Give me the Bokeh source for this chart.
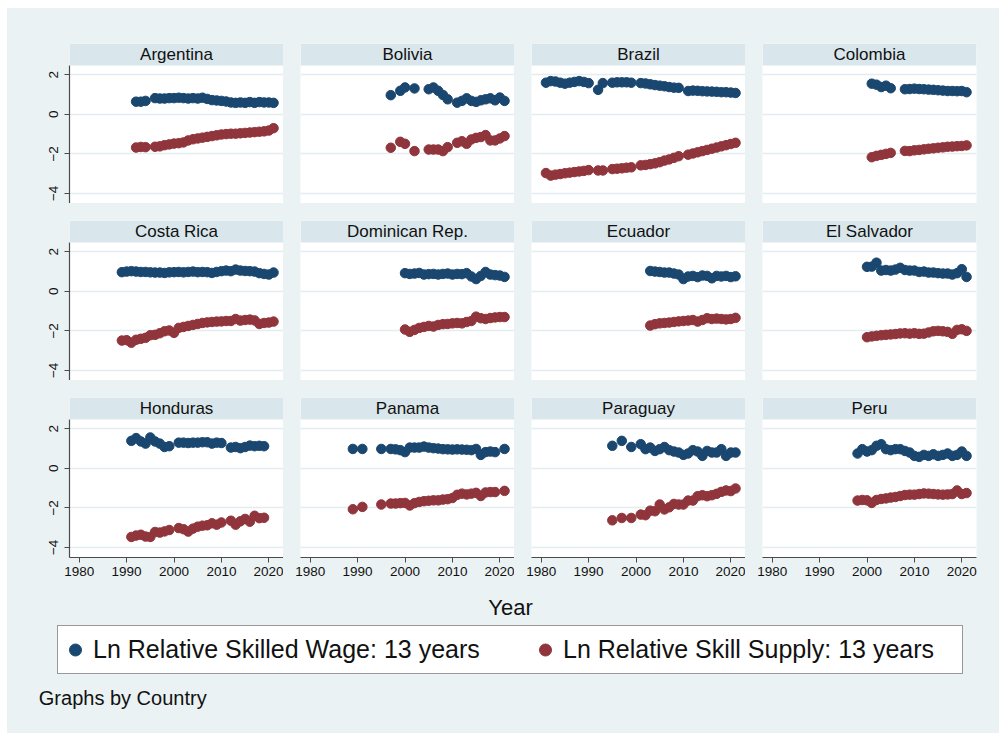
from bokeh.plotting import figure
from bokeh.models import (Range1d, FixedTicker, Grid, BoxAnnotation, Label,
                          Legend, LegendItem)
from bokeh.layouts import row, column
from bokeh.embed import file_html
from bokeh.resources import INLINE

# ---------------- data ----------------
COUNTRIES = ["Argentina", "Bolivia", "Brazil", "Colombia",
             "Costa Rica", "Dominican Rep.", "Ecuador", "El Salvador",
             "Honduras", "Panama", "Paraguay", "Peru"]

ARG_YEARS = [1992, 1993, 1994, 1996, 1997, 1998, 1999, 2000, 2001, 2002, 2003, 2004, 2005,
             2006, 2007, 2008, 2009, 2010, 2011, 2012, 2013, 2014, 2015, 2016, 2017, 2018,
             2019, 2020, 2021]
ARG_WAGE = [0.64, 0.64, 0.68, 0.82, 0.80, 0.80, 0.82, 0.82, 0.84, 0.82, 0.80, 0.82, 0.80,
            0.84, 0.78, 0.72, 0.70, 0.68, 0.65, 0.60, 0.58, 0.60, 0.58, 0.62, 0.58, 0.62,
            0.60, 0.60, 0.58]
ARG_SUPPLY = [-1.68, -1.65, -1.66, -1.64, -1.62, -1.56, -1.52, -1.48, -1.46, -1.42, -1.32,
              -1.26, -1.22, -1.18, -1.14, -1.10, -1.06, -1.02, -1.00, -0.98, -0.98, -0.96,
              -0.94, -0.92, -0.90, -0.88, -0.86, -0.82, -0.70]

BOL_YEARS = [1997, 1999, 2000, 2002, 2005, 2006, 2007, 2008, 2009, 2011, 2012, 2013, 2014,
             2015, 2016, 2017, 2018, 2019, 2020, 2021]
BOL_WAGE = [0.97, 1.19, 1.36, 1.31, 1.27, 1.36, 1.19, 0.98, 0.76, 0.59, 0.68, 0.81, 0.68,
            0.63, 0.71, 0.76, 0.81, 0.71, 0.85, 0.68]
BOL_SUPPLY = [-1.69, -1.39, -1.49, -1.86, -1.78, -1.78, -1.78, -1.86, -1.66, -1.44, -1.36,
              -1.49, -1.27, -1.19, -1.15, -1.05, -1.32, -1.32, -1.22, -1.10]

BRA_YEARS = [1981, 1982, 1983, 1984, 1985, 1986, 1987, 1988, 1989, 1990, 1992, 1993, 1995,
             1996, 1997, 1998, 1999, 2001, 2002, 2003, 2004, 2005, 2006, 2007, 2008, 2009,
             2011, 2012, 2013, 2014, 2015, 2016, 2017, 2018, 2019, 2020, 2021]
BRA_WAGE = [1.60, 1.68, 1.66, 1.60, 1.55, 1.60, 1.64, 1.68, 1.64, 1.58, 1.24, 1.58, 1.60,
            1.62, 1.62, 1.62, 1.60, 1.58, 1.56, 1.52, 1.48, 1.45, 1.42, 1.38, 1.35, 1.34,
            1.18, 1.20, 1.19, 1.17, 1.16, 1.15, 1.14, 1.12, 1.12, 1.10, 1.08]
BRA_SUPPLY = [-2.97, -3.10, -3.05, -3.02, -2.98, -2.95, -2.92, -2.89, -2.86, -2.82, -2.84,
              -2.84, -2.77, -2.75, -2.73, -2.70, -2.68, -2.58, -2.56, -2.52, -2.48, -2.42,
              -2.34, -2.28, -2.20, -2.12, -2.04, -1.98, -1.92, -1.86, -1.80, -1.74, -1.68,
              -1.62, -1.56, -1.50, -1.44]

COL_YEARS = [2001, 2002, 2003, 2004, 2005, 2008, 2009, 2010, 2011, 2012, 2013, 2014, 2015,
             2016, 2017, 2018, 2019, 2020, 2021]
COL_WAGE = [1.55, 1.50, 1.38, 1.45, 1.32, 1.27, 1.28, 1.30, 1.28, 1.27, 1.25, 1.24, 1.22,
            1.20, 1.18, 1.18, 1.17, 1.18, 1.12]
COL_SUPPLY = [-2.17, -2.10, -2.05, -2.00, -1.95, -1.85, -1.86, -1.82, -1.80, -1.77, -1.74,
              -1.72, -1.69, -1.67, -1.64, -1.63, -1.61, -1.60, -1.57]

CRI_YEARS = list(range(1989, 2022))
CRI_WAGE = [0.97, 1.00, 1.02, 1.00, 0.98, 0.98, 0.96, 0.95, 0.95, 0.93, 0.96, 0.97, 0.98,
            0.96, 0.98, 1.00, 0.97, 0.98, 0.97, 0.93, 0.98, 1.02, 1.05, 1.02, 1.10, 1.05,
            1.03, 1.02, 1.00, 0.92, 0.88, 0.85, 0.95]
CRI_SUPPLY = [-2.49, -2.47, -2.60, -2.45, -2.40, -2.35, -2.22, -2.20, -2.12, -2.02, -1.98,
              -2.10, -1.85, -1.80, -1.75, -1.70, -1.65, -1.60, -1.57, -1.55, -1.53, -1.52,
              -1.50, -1.50, -1.40, -1.48, -1.45, -1.43, -1.47, -1.65, -1.60, -1.58, -1.53]

DOM_YEARS = list(range(2000, 2022))
DOM_WAGE = [0.92, 0.88, 0.90, 0.93, 0.85, 0.87, 0.88, 0.85, 0.88, 0.90, 0.85, 0.88, 0.87,
            0.92, 0.75, 0.62, 0.78, 0.98, 0.85, 0.82, 0.80, 0.73]
DOM_SUPPLY = [-1.93, -2.05, -1.95, -1.85, -1.80, -1.75, -1.78, -1.70, -1.66, -1.65, -1.62,
              -1.60, -1.62, -1.55, -1.50, -1.28, -1.36, -1.40, -1.35, -1.32, -1.30, -1.30]

ECU_YEARS = list(range(2003, 2022))
ECU_WAGE = [1.03, 1.00, 0.98, 0.95, 0.95, 0.90, 0.85, 0.62, 0.75, 0.78, 0.72, 0.80, 0.78,
            0.66, 0.78, 0.75, 0.78, 0.72, 0.76]
ECU_SUPPLY = [-1.73, -1.66, -1.62, -1.60, -1.58, -1.55, -1.52, -1.50, -1.48, -1.45, -1.53,
              -1.45, -1.36, -1.40, -1.38, -1.40, -1.42, -1.40, -1.34]

SLV_YEARS = list(range(2000, 2022))
SLV_WAGE = [1.24, 1.25, 1.45, 1.05, 1.08, 1.05, 1.10, 1.19, 1.08, 1.05, 1.05, 0.98, 1.00,
            0.95, 0.95, 0.92, 0.90, 0.90, 0.85, 0.92, 1.12, 0.73]
SLV_SUPPLY = [-2.32, -2.28, -2.25, -2.22, -2.20, -2.18, -2.16, -2.13, -2.12, -2.14, -2.12,
              -2.15, -2.14, -2.08, -2.02, -2.00, -2.02, -2.05, -2.15, -1.95, -1.92, -2.00]

HND_YEARS = [1991, 1992, 1993, 1994, 1995, 1996, 1997, 1998, 1999, 2001, 2002, 2003, 2004,
             2005, 2006, 2007, 2008, 2009, 2010, 2012, 2013, 2014, 2015, 2016, 2017, 2018,
             2019]
HND_WAGE = [1.39, 1.53, 1.36, 1.25, 1.56, 1.36, 1.25, 1.08, 1.12, 1.30, 1.30, 1.28, 1.30,
            1.30, 1.32, 1.32, 1.25, 1.30, 1.28, 1.05, 1.08, 1.02, 1.08, 1.15, 1.12, 1.14,
            1.12]
HND_SUPPLY = [-3.47, -3.40, -3.36, -3.45, -3.47, -3.22, -3.25, -3.19, -3.12, -3.02, -3.08,
              -3.20, -3.05, -2.95, -2.90, -2.88, -2.78, -2.85, -2.74, -2.65, -2.85, -2.68,
              -2.56, -2.70, -2.40, -2.52, -2.50]

PAN_YEARS = [1989, 1991, 1995, 1997, 1998, 1999, 2000, 2001, 2002, 2003, 2004, 2005, 2006,
             2007, 2008, 2009, 2010, 2011, 2012, 2013, 2014, 2015, 2016, 2017, 2018, 2019,
             2021]
PAN_WAGE = [0.98, 0.98, 0.98, 0.98, 0.96, 0.92, 0.82, 1.05, 1.05, 1.05, 1.10, 1.05, 1.02,
            1.00, 0.97, 0.96, 0.95, 0.96, 0.95, 0.94, 0.92, 0.98, 0.68, 0.82, 0.85, 0.82,
            0.98]
PAN_SUPPLY = [-2.07, -1.95, -1.83, -1.78, -1.78, -1.76, -1.75, -1.88, -1.76, -1.70, -1.66,
              -1.64, -1.62, -1.62, -1.58, -1.56, -1.50, -1.34, -1.28, -1.32, -1.28, -1.24,
              -1.40, -1.22, -1.20, -1.20, -1.14]

PRY_YEARS = [1995, 1997, 1999] + list(range(2001, 2022))
PRY_WAGE = [1.14, 1.39, 1.08, 1.22, 0.97, 1.05, 0.88, 0.97, 1.08, 0.92, 0.85, 0.80, 0.68,
            0.75, 0.92, 0.85, 0.63, 0.88, 0.80, 0.80, 0.97, 0.63, 0.80, 0.80]
PRY_SUPPLY = [-2.63, -2.51, -2.51, -2.34, -2.37, -2.14, -2.17, -1.83, -2.08, -1.97, -1.80,
              -1.83, -1.83, -1.63, -1.63, -1.41, -1.36, -1.41, -1.36, -1.29, -1.19, -1.12,
              -1.15, -1.02]

PER_YEARS = list(range(1998, 2022))
PER_WAGE = [0.75, 0.97, 0.85, 0.92, 1.14, 1.22, 0.97, 0.92, 0.97, 0.97, 0.88, 0.80, 0.63,
            0.58, 0.68, 0.63, 0.71, 0.63, 0.68, 0.75, 0.63, 0.68, 0.85, 0.63]
PER_SUPPLY = [-1.63, -1.60, -1.62, -1.75, -1.60, -1.55, -1.52, -1.48, -1.45, -1.40, -1.35,
              -1.33, -1.33, -1.30, -1.27, -1.28, -1.30, -1.32, -1.33, -1.32, -1.30, -1.12,
              -1.30, -1.25]

X_TICKS = [1980, 1990, 2000, 2010, 2020]
Y_TICKS = [-4, -2, 0, 2]
WAGE_LABEL = "Ln Relative Skilled Wage: 13 years"
SUPPLY_LABEL = "Ln Relative Skill Supply: 13 years"
X_TITLE = "Year"
NOTE = "Graphs by Country"

PANELS = [
    (ARG_YEARS, ARG_WAGE, ARG_SUPPLY), (BOL_YEARS, BOL_WAGE, BOL_SUPPLY),
    (BRA_YEARS, BRA_WAGE, BRA_SUPPLY), (COL_YEARS, COL_WAGE, COL_SUPPLY),
    (CRI_YEARS, CRI_WAGE, CRI_SUPPLY), (DOM_YEARS, DOM_WAGE, DOM_SUPPLY),
    (ECU_YEARS, ECU_WAGE, ECU_SUPPLY), (SLV_YEARS, SLV_WAGE, SLV_SUPPLY),
    (HND_YEARS, HND_WAGE, HND_SUPPLY), (PAN_YEARS, PAN_WAGE, PAN_SUPPLY),
    (PRY_YEARS, PRY_WAGE, PRY_SUPPLY), (PER_YEARS, PER_WAGE, PER_SUPPLY),
]

# ---------------- style ----------------
FONT = "Liberation Sans"
BG = "#EAF2F3"
STRIP = "#D9E6EB"
GRID = "#E3ECEF"
NAVY = "#1A476F"
MAROON = "#90353B"
AXIS = "#4a4a4a"
TEXT = "#111111"

X_START, X_END = 1977.95, 2023.1
Y_BOTTOM, Y_PLOT_TOP, Y_TOP = -4.51, 2.47, 3.583


def make_panel(name, years, wage, supply, col, rowi):
    left_axis = col == 0
    bottom_axis = rowi == 2
    p = figure(frame_width=214, frame_height=160,
               x_range=Range1d(X_START, X_END), y_range=Range1d(Y_BOTTOM, Y_TOP),
               x_axis_location="below" if bottom_axis else None,
               y_axis_location="left" if left_axis else None,
               toolbar_location=None, output_backend="svg",
               background_fill_color="white", border_fill_color=BG,
               outline_line_color=None,
               min_border_left=62 if left_axis else 17,
               min_border_right=23 if col == 3 else 0,
               min_border_top=35 if rowi == 0 else 17,
               min_border_bottom=32 if bottom_axis else 0)
    p.xgrid.visible = False
    p.ygrid.visible = False
    p.add_layout(Grid(dimension=1, ticker=FixedTicker(ticks=Y_TICKS),
                      grid_line_color=GRID, grid_line_width=1.5))

    # title strip
    p.add_layout(BoxAnnotation(bottom=Y_PLOT_TOP, fill_color=STRIP, fill_alpha=1.0,
                               line_color=None))
    p.add_layout(Label(x=(X_START + X_END) / 2, y=(Y_PLOT_TOP + Y_TOP) / 2, text=name,
                       text_align="center", text_baseline="middle", text_font=FONT,
                       text_font_size="17px", text_color=TEXT))

    p.scatter(years, wage, size=9.5, fill_color=NAVY, line_color=NAVY)
    p.scatter(years, supply, size=9.5, fill_color=MAROON, line_color=MAROON)

    if left_axis:
        ax = p.yaxis[0]
        ax.ticker = FixedTicker(ticks=Y_TICKS)
        ax.bounds = (Y_BOTTOM, Y_PLOT_TOP)
        ax.major_label_orientation = "vertical"
    if bottom_axis:
        ax = p.xaxis[0]
        ax.ticker = FixedTicker(ticks=X_TICKS)
    for ax in p.axis:
        ax.axis_line_color = AXIS
        ax.axis_line_width = 1.2
        ax.major_tick_line_color = AXIS
        ax.major_tick_in = 0
        ax.major_tick_out = 5
        ax.minor_tick_line_color = None
        ax.major_label_standoff = 4
        ax.major_label_text_font = FONT
        ax.major_label_text_font_size = "13.5px"
        ax.major_label_text_color = TEXT
    if left_axis:
        p.yaxis[0].major_label_standoff = 6
    return p


figs = []
for i, (name, (yrs, w, s)) in enumerate(zip(COUNTRIES, PANELS)):
    figs.append(make_panel(name, yrs, w, s, i % 4, i // 4))

# bottom area: x title, legend, note (frame measured in pixels)
bottom = figure(width=992, height=144, x_range=Range1d(0, 992), y_range=Range1d(0, 144),
                toolbar_location=None, output_backend="svg",
                x_axis_location=None, y_axis_location=None,
                min_border_left=0, min_border_right=0, min_border_top=0, min_border_bottom=0,
                outline_line_color=None, background_fill_color=BG, border_fill_color=BG)
bottom.xgrid.visible = False
bottom.ygrid.visible = False
# legend-only renderers: one real data point each, lying outside this frame's range
r_wage = bottom.scatter(x=ARG_YEARS[:1], y=ARG_WAGE[:1], fill_color=NAVY, line_color=NAVY)
r_supply = bottom.scatter(x=ARG_YEARS[:1], y=ARG_SUPPLY[:1], fill_color=MAROON,
                          line_color=MAROON)
legend = Legend(items=[LegendItem(label=WAGE_LABEL, renderers=[r_wage]),
                       LegendItem(label=SUPPLY_LABEL, renderers=[r_supply])],
                orientation="horizontal", location=(50, 59), margin=0,
                padding=2, spacing=40, glyph_width=30, glyph_height=43,
                label_width=397, label_standoff=3,
                label_text_font=FONT, label_text_font_size="25px", label_text_color=TEXT,
                border_line_color="#333333", border_line_width=1.2,
                background_fill_color="white", background_fill_alpha=1.0)
bottom.add_layout(legend)
bottom.add_layout(Label(x=503, y=126, text=X_TITLE, text_align="center",
                        text_baseline="alphabetic", text_font=FONT, text_font_size="22px",
                        text_color=TEXT))
bottom.add_layout(Label(x=31.3, y=36, text=NOTE, text_align="left",
                        text_baseline="alphabetic", text_font=FONT, text_font_size="20px",
                        text_color=TEXT))

rows = [row(*figs[k:k + 4], styles={"background-color": BG}) for k in (0, 4, 8)]
layout = column(*rows, bottom, margin=(8, 0, 0, 7), styles={"background-color": BG})

open("out.html", "w").write(file_html(layout, INLINE))
